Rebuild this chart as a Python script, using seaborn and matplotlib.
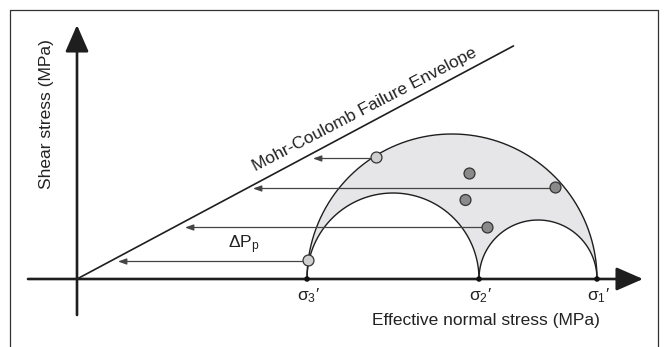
import numpy as np
import pandas as pd
import matplotlib
matplotlib.use("Agg")
import matplotlib.pyplot as plt
from matplotlib.lines import Line2D
import seaborn as sns

# ---------------- data (arbitrary stress units) ----------------
sigma_labels = ["σ$_3$′", "σ$_2$′", "σ$_1$′"]
sigma_values = [46.0, 80.4, 104.0]          # sigma3', sigma2', sigma1'
envelope_slope = 0.534                      # friction coefficient
envelope_end = 87.3                         # x extent of envelope line

point_x = [46.3, 59.9, 78.5, 95.7, 77.7, 82.1]
point_y = [3.7, 24.3, 21.1, 18.3, 15.8, 10.3]
point_kind = ["light", "light", "dark", "dark", "dark", "dark"]

arrow_from_x = [46.3, 82.1, 95.7, 59.9]
arrow_y = [3.5, 10.3, 18.1, 24.1]
arrow_to_x = [8.2, 21.6, 35.2, 47.2]

x_axis_range = [-9.8, 113.2]
y_axis_range = [-7.2, 50.8]

# ---------------- style ----------------
sns.set_theme(style="white")
plt.rcParams["font.family"] = ["Liberation Sans", "DejaVu Sans"]
plt.rcParams["mathtext.fontset"] = "custom"
plt.rcParams["mathtext.rm"] = "Liberation Sans"
plt.rcParams["mathtext.it"] = "Liberation Sans:italic"
plt.rcParams["mathtext.default"] = "rm"

TXT = "#222222"
LINE = "#1e1e1e"

fig = plt.figure(figsize=(6.66, 3.47), dpi=100)
ax = fig.add_axes([0, 0, 1, 1])
ax.set_xlim(-15.4, 117.8)
ax.set_ylim(-13.6, 55.8)
ax.set_aspect("equal")
ax.axis("off")

# frame around figure
W, H = 666, 347
fkw = dict(color="#333333", lw=0.9, transform=fig.transFigure)
fig.add_artist(Line2D([10 / W, 10 / W], [0, 1 - 9.5 / H], **fkw))
fig.add_artist(Line2D([10 / W, 657.5 / W], [1 - 9.5 / H, 1 - 9.5 / H], **fkw))
fig.add_artist(Line2D([657.5 / W, 657.5 / W], [0, 1 - 9.5 / H], **fkw))

# axes arrows
akw = dict(arrowstyle="-|>,head_length=1.65,head_width=0.72", mutation_scale=10,
           lw=1.9, color=LINE, shrinkA=0, shrinkB=0)
ax.annotate("", xy=(x_axis_range[1], 0), xytext=(x_axis_range[0], 0), arrowprops=akw)
ax.annotate("", xy=(0, y_axis_range[1]), xytext=(0, y_axis_range[0]), arrowprops=akw)

# Mohr circles
s3, s2, s1 = sigma_values
def arc(a, b, n=400):
    c, r = (a + b) / 2, (b - a) / 2
    t = np.linspace(np.pi, 0, n)
    return c + r * np.cos(t), r * np.sin(t)

xb, yb = arc(s3, s1)
x_small1, y_small1 = arc(s3, s2)
x_small2, y_small2 = arc(s2, s1)
lower = np.where(xb <= s2,
                 np.sqrt(np.clip(((s2 - s3) / 2) ** 2 - (xb - (s3 + s2) / 2) ** 2, 0, None)),
                 np.sqrt(np.clip(((s1 - s2) / 2) ** 2 - (xb - (s2 + s1) / 2) ** 2, 0, None)))
ax.fill_between(xb, lower, yb, color="#e6e6e8", zorder=1, lw=0)

for xx, yy in [(xb, yb), (x_small1, y_small1), (x_small2, y_small2)]:
    sns.lineplot(x=xx, y=yy, sort=False, ax=ax, color=LINE, lw=1.0, zorder=2)

# failure envelope
env_x = np.array([0.0, envelope_end])
sns.lineplot(x=env_x, y=envelope_slope * env_x, ax=ax, color=LINE, lw=1.2, zorder=2)

# pore-pressure arrows
for x0, x1, y in zip(arrow_from_x, arrow_to_x, arrow_y):
    ax.annotate("", xy=(x1, y), xytext=(x0, y),
                arrowprops=dict(arrowstyle="-|>,head_length=0.5,head_width=0.18",
                                mutation_scale=10, lw=0.9, color="#444444",
                                shrinkA=0, shrinkB=0), zorder=3)

# sigma dots on axis
sns.scatterplot(x=sigma_values, y=[0, 0, 0], ax=ax, color="#111111", s=16,
                edgecolor="none", zorder=5)

# stress points
df = pd.DataFrame({"x": point_x, "y": point_y, "kind": point_kind})
sns.scatterplot(data=df, x="x", y="y", hue="kind",
                palette={"light": "#cfcfd0", "dark": "#8a8a8a"},
                s=62, edgecolor="#333333", linewidth=0.9, legend=False, ax=ax, zorder=6)

# texts
for lab, sv in zip(sigma_labels, sigma_values):
    ax.text(sv + 0.3, -1.5, lab, ha="center", va="top", fontsize=12.5, color=TXT)

ax.text(-6.0, 33.0, "Shear stress (MPa)", rotation=90, ha="center", va="center",
        fontsize=12.5, color=TXT)
ax.text(104.6, -9.2, "Effective normal stress (MPa)", ha="right", va="baseline",
        fontsize=12.5, color=TXT)
ax.text(57.9, 33.0, "Mohr-Coulomb Failure Envelope", rotation=27.5,
        rotation_mode="anchor", ha="center", va="baseline", fontsize=12.5, color=TXT)
ax.text(30.2, 6.2, "ΔP$_{\\mathrm{p}}$", ha="left", va="baseline", fontsize=12.5, color=TXT)

fig.savefig("out.png", dpi=100)
